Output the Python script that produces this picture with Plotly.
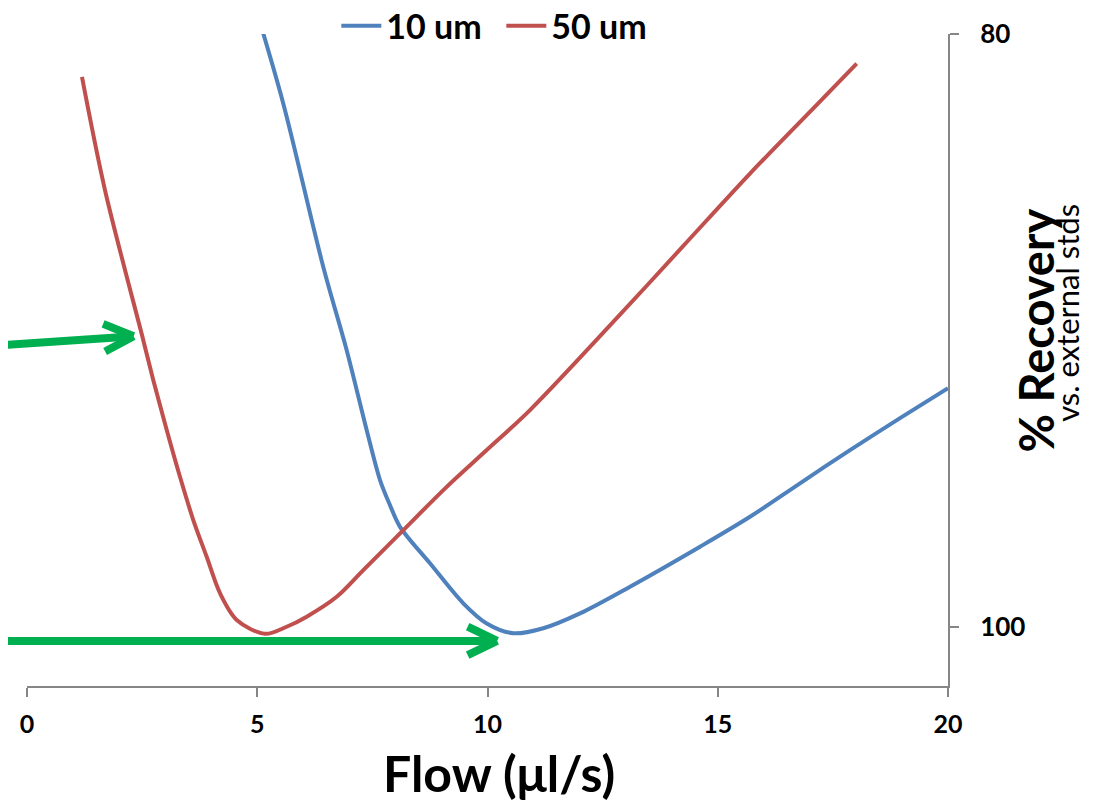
import plotly.graph_objects as go

# ---- data ----
flow_10um = [5.0, 5.566, 6.434, 6.942, 7.377, 7.666, 7.883, 8.100, 8.751, 9.474, 9.983, 10.560,
             11.212, 12.009, 13.095, 14.615, 15.700, 16.786, 17.872, 18.958, 20.0]
rec_10um = [79.3, 82.35, 87.86, 90.67, 93.37, 95.05, 95.90, 96.63, 97.86, 99.21, 99.89, 100.22,
            100.05, 99.55, 98.65, 97.30, 96.29, 95.16, 94.04, 92.96, 91.95]

flow_50um = [1.194, 1.694, 2.525, 2.743, 3.034, 3.322, 3.611, 3.902, 4.191, 4.554, 5.168,
             5.639, 6.074, 6.725, 7.303, 8.171, 9.114, 9.983, 10.923, 12.806, 14.252,
             15.700, 17.149, 18.017]
rec_50um = [81.45, 85.27, 90.33, 91.68, 93.36, 94.94, 96.40, 97.64, 98.87, 99.77, 100.24,
            100.0, 99.66, 98.99, 98.09, 96.74, 95.28, 94.04, 92.69, 89.59, 87.15,
            84.71, 82.39, 81.00]

x_ticks = [0, 5, 10, 15, 20]
y_ticks = [80, 100]

# green pointer arrows: head (x, y) and tail (x, y) in data units
arrow_heads = [(2.315, 90.20), (10.21, 100.48)]
arrow_tails = [(-0.586, 90.50), (-0.586, 100.48)]
# chevron arm offsets (pixels, relative to head)
arrow_arms = [[(-32, -13), (-30, 16)], [(-31, -15), (-31, 15)]]

BLUE = "#4F81BD"
RED = "#C0504D"
GREEN = "#00B050"
AXIS = "#868686"
FONT = "Lato"

fig = go.Figure()
fig.add_trace(go.Scatter(x=flow_10um, y=rec_10um, mode="lines", name="10 um",
                         line=dict(color=BLUE, width=4, shape="spline", smoothing=0.9)))
fig.add_trace(go.Scatter(x=flow_50um, y=rec_50um, mode="lines", name="50 um",
                         line=dict(color=RED, width=4, shape="spline", smoothing=0.9)))

annotations = []
for (hx, hy), (tx, ty), arms in zip(arrow_heads, arrow_tails, arrow_arms):
    annotations.append(dict(x=hx, y=hy, xref="x", yref="y", axref="x", ayref="y",
                            ax=tx, ay=ty, text="", showarrow=True, arrowhead=0,
                            arrowwidth=8, arrowcolor=GREEN, standoff=3))
    for (dx, dy) in arms:
        annotations.append(dict(x=hx, y=hy, xref="x", yref="y", ax=dx, ay=dy,
                                text="", showarrow=True, arrowhead=0,
                                arrowwidth=8, arrowcolor=GREEN))

annotations.append(dict(text="Flow (μl/s)", x=0.512, y=-0.134, xref="paper", yref="paper",
                        xanchor="center", yanchor="middle", showarrow=False,
                        font=dict(family=FONT, size=50, color="black", weight="bold")))
annotations.append(dict(text="% Recovery", x=1.096, y=0.546, xref="paper", yref="paper",
                        xanchor="center", yanchor="middle", showarrow=False, textangle=-90,
                        font=dict(family=FONT, size=47, color="black", weight="bold")))
annotations.append(dict(text="vs. external stds", x=1.129, y=0.572, xref="paper", yref="paper",
                        xanchor="center", yanchor="middle", showarrow=False, textangle=-90,
                        font=dict(family=FONT, size=31, color="black")))

fig.update_layout(
    template="none",
    width=1089, height=793,
    margin=dict(l=19, r=149, t=26, b=115, autoexpand=False),
    paper_bgcolor="white", plot_bgcolor="white",
    showlegend=True,
    legend=dict(orientation="h", x=0.515, y=1.012, xanchor="center", yanchor="middle",
                bgcolor="rgba(0,0,0,0)", font=dict(family=FONT, size=34, color="black", weight="bold"),
                itemwidth=40, entrywidth=110, tracegroupgap=0),
    xaxis=dict(range=[0, 20], tickvals=x_ticks, showgrid=False, zeroline=False,
               showline=True, linecolor=AXIS, linewidth=2, ticks="outside", ticklen=9,
               tickwidth=2, tickcolor=AXIS, ticklabelstandoff=6,
               tickfont=dict(family=FONT, size=25, color="black", weight="bold")),
    yaxis=dict(range=[102, 80], tickvals=y_ticks, side="right", showgrid=False, zeroline=False,
               showline=True, linecolor=AXIS, linewidth=2, ticks="outside", ticklen=9,
               tickwidth=2, tickcolor=AXIS, ticklabelstandoff=16,
               tickfont=dict(family=FONT, size=26, color="black", weight="bold")),
    annotations=annotations,
)

fig.write_html("out.html")
